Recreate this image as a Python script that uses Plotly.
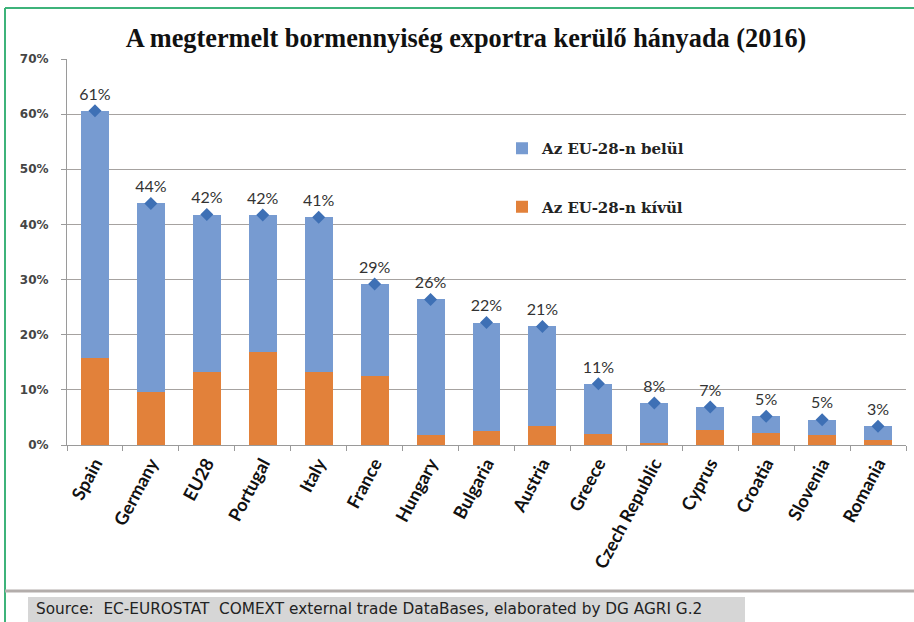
import plotly.graph_objects as go

categories = ["Spain", "Germany", "EU28", "Portugal", "Italy", "France", "Hungary",
              "Bulgaria", "Austria", "Greece", "Czech Republic", "Cyprus", "Croatia",
              "Slovenia", "Romania"]
total_share = [60.6, 43.8, 41.8, 41.7, 41.3, 29.2, 26.4, 22.2, 21.5, 11.1, 7.6, 6.9, 5.2, 4.6, 3.4]
outside_eu = [15.7, 9.6, 13.2, 16.8, 13.2, 12.6, 1.9, 2.5, 3.4, 2.0, 0.3, 2.7, 2.2, 1.8, 0.9]
total_labels = ["61%", "44%", "42%", "42%", "41%", "29%", "26%", "22%", "21%", "11%",
                "8%", "7%", "5%", "5%", "3%"]
within_eu = [round(t - o, 2) for t, o in zip(total_share, outside_eu)]
y_ticks = [0, 10, 20, 30, 40, 50, 60, 70]
y_tick_labels = ["0%", "10%", "20%", "30%", "40%", "50%", "60%", "70%"]

BLUE = "#779BD1"
ORANGE = "#E2813A"
DIAMOND = "#3E70B5"

# plot area in pixels (for paper-coordinate decorations)
L, R, T, B = 67, 906, 59, 445
W, H = R - L, B - T


def px(xp):
    return (xp - L) / W


def py(yp):
    return (B - yp) / H


fig = go.Figure()
fig.add_trace(go.Bar(x=categories, y=outside_eu, name="Az EU-28-n kívül",
                     marker=dict(color=ORANGE, line=dict(width=0)),
                     legendgroup="out", legendrank=2, hoverinfo="skip"))
fig.add_trace(go.Bar(x=categories, y=within_eu, name="Az EU-28-n belül",
                     marker=dict(color=BLUE, line=dict(width=0)),
                     legendgroup="in", legendrank=1, hoverinfo="skip"))
fig.add_trace(go.Scatter(x=categories, y=total_share, mode="markers+text",
                         text=total_labels, textposition="top center",
                         textfont=dict(family="Lato", size=16, color="#333333"),
                         marker=dict(symbol="diamond", size=10, color=DIAMOND),
                         showlegend=False, hoverinfo="skip"))

fig.update_layout(
    width=914, height=622,
    margin=dict(l=L, r=914 - R, t=T, b=622 - B),
    paper_bgcolor="white", plot_bgcolor="white",
    barmode="stack", bargap=0.5,
    title=dict(text="A megtermelt bormennyiség exportra kerülő hányada (2016)",
               font=dict(family="Liberation Serif", size=26.3, color="#111111", weight="bold"),
               x=466 / 914, xanchor="center", y=1 - 38 / 622, yanchor="middle"),
    legend=dict(x=px(502), y=py(132), xanchor="left", yanchor="top",
                traceorder="grouped", tracegroupgap=36,
                bgcolor="rgba(0,0,0,0)",
                font=dict(family="DejaVu Serif", size=15, color="#222222", weight="bold")),
    showlegend=True,
)

fig.update_xaxes(range=[-0.5, len(categories) - 0.5], autorange=False,
                 showgrid=False, showline=True, linecolor="#9a9a9a", linewidth=1,
                 ticks="outside", tickson="boundaries", ticklen=5, tickcolor="#9a9a9a",
                 tickangle=-62,
                 tickfont=dict(family="Lato", size=18, color="#111111", weight="bold"))
fig.update_yaxes(range=[0, 70], tickvals=y_ticks, ticktext=y_tick_labels,
                 showgrid=True, gridcolor="#a6a2a0", gridwidth=1,
                 showline=True, linecolor="#9a9a9a", linewidth=1,
                 ticks="outside", ticklen=5, tickcolor="#9a9a9a",
                 ticklabelstandoff=10, zeroline=False,
                 tickfont=dict(family="DejaVu Sans", size=12, color="#454545", weight="bold"))

# frame lines and source box
fig.add_shape(type="line", xref="paper", yref="paper", x0=px(5), x1=px(5), y0=py(8), y1=py(640),
              line=dict(color="#3db37a", width=2))
fig.add_shape(type="line", xref="paper", yref="paper", x0=px(5), x1=px(920), y0=py(8), y1=py(8),
              line=dict(color="#3db37a", width=2))
fig.add_shape(type="line", xref="paper", yref="paper", x0=px(5), x1=px(920), y0=py(591), y1=py(591),
              line=dict(color="#b3adab", width=3))
fig.add_shape(type="rect", xref="paper", yref="paper", x0=px(28), x1=px(745), y0=py(597), y1=py(640),
              fillcolor="#d6d6d6", line=dict(width=0), layer="below")
fig.add_annotation(text="Source:  EC-EUROSTAT  COMEXT external trade DataBases, elaborated by DG AGRI G.2",
                   xref="paper", yref="paper", x=px(34), y=py(609), xanchor="left", yanchor="middle",
                   showarrow=False,
                   font=dict(family="DejaVu Sans", size=15.3, color="#222222"))

fig.write_html("out.html", config={"displayModeBar": False},
               post_script="document.body.style.margin='0';")
